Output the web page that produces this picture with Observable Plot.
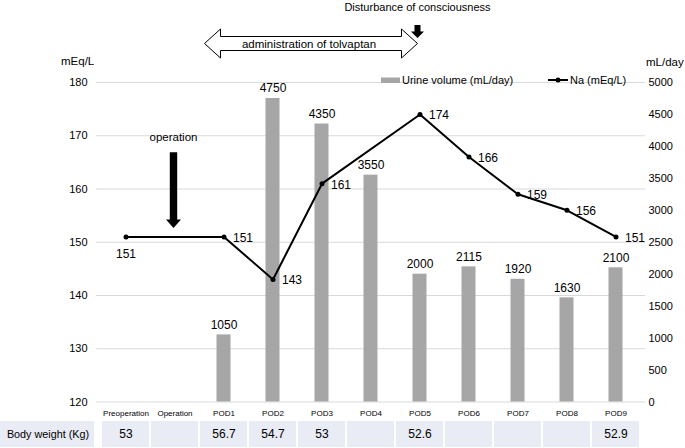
<!DOCTYPE html>
<html>
<head>
<meta charset="utf-8">
<script src="https://cdn.jsdelivr.net/npm/d3@7"></script>
<script src="https://cdn.jsdelivr.net/npm/@observablehq/plot@0.6"></script>
<style>
  html, body { margin: 0; padding: 0; background: #fff; }
  #wrap { width: 685px; height: 448px; overflow: hidden; }
  #wrap svg { display: block; }
</style>
</head>
<body>
<div id="wrap"></div>
<script>
// ---------- data ----------
const categories = ["Preoperation", "Operation", "POD1", "POD2", "POD3", "POD4", "POD5", "POD6", "POD7", "POD8", "POD9"];
const urineVolume = [null, null, 1050, 4750, 4350, 3550, 2000, 2115, 1920, 1630, 2100];   // mL/day
const sodium      = [151, null, 151, 143, 161, null, 174, 166, 159, 156, 151];              // mEq/L
const bodyWeight  = [53, null, 56.7, 54.7, 53, null, 52.6, null, null, null, 52.9];         // Kg
const naTicks     = [120, 130, 140, 150, 160, 170, 180];
const urineTicks  = [0, 500, 1000, 1500, 2000, 2500, 3000, 3500, 4000, 4500, 5000];

const FONT = '"Liberation Sans", Arial, Helvetica, sans-serif';
const NA_MIN = 120, NA_MAX = 180, URINE_MAX = 5000;
const toNa = v => NA_MIN + v * (NA_MAX - NA_MIN) / URINE_MAX;
const toUrine = n => Math.round((n - NA_MIN) * URINE_MAX / (NA_MAX - NA_MIN));

const barData = categories.map((c, i) => ({cat: c, v: urineVolume[i]})).filter(d => d.v != null);
const naData = categories.map((c, i) => ({cat: c, na: sodium[i]})).filter(d => d.na != null);
const weightData = categories.map((c, i) => ({cat: c, w: bodyWeight[i]}));

// ---------- annotations (legend, arrows, unit labels) ----------
function annotations(index, scales, values, dims) {
  const sx = scales.x, sy = scales.y;
  const bw = typeof sx.bandwidth === "function" ? sx.bandwidth() : (sx.bandwidth || 0);
  const cx = c => sx(c) + bw / 2;
  const g = d3.create("svg:g").attr("font-family", FONT).attr("fill", "#000").attr("text-anchor", "start");

  // unit labels
  g.append("text").attr("x", 61).attr("y", 61).attr("dy", "0.35em").attr("text-anchor", "start").attr("font-size", 11.5).text("mEq/L");
  g.append("text").attr("x", 646).attr("y", 62).attr("dy", "0.35em").attr("text-anchor", "start").attr("font-size", 11.5).text("mL/day");

  // legend
  g.append("rect").attr("x", 381).attr("y", 77.5).attr("width", 19).attr("height", 5.5).attr("fill", "#a6a6a6");
  g.append("text").attr("x", 402).attr("y", 80).attr("dy", "0.35em").attr("text-anchor", "start").attr("font-size", 11).text("Urine volume (mL/day)");
  g.append("line").attr("x1", 548).attr("x2", 568).attr("y1", 80).attr("y2", 80).attr("stroke", "#000").attr("stroke-width", 2);
  g.append("circle").attr("cx", 558).attr("cy", 80).attr("r", 2.5).attr("fill", "#000");
  g.append("text").attr("x", 570).attr("y", 80).attr("dy", "0.35em").attr("text-anchor", "start").attr("font-size", 11).text("Na (mEq/L)");

  // disturbance of consciousness
  const dX = cx("POD5") - 2;
  g.append("text").attr("x", dX).attr("y", 7).attr("dy", "0.35em").attr("text-anchor", "middle").attr("font-size", 11)
    .text("Disturbance of consciousness");
  g.append("path").attr("fill", "#000")
    .attr("d", `M${dX - 3},25 L${dX + 3},25 L${dX + 3},31.5 L${dX + 6.5},31.5 L${dX},38 L${dX - 6.5},31.5 L${dX - 3},31.5 Z`);

  // administration of tolvaptan (double outlined arrow)
  const L = cx("POD1") - 19, R = dX, cy = 43.5, hl = 16, hh = 14.5, sh = 7;
  g.append("path").attr("fill", "#fff").attr("stroke", "#000").attr("stroke-width", 1)
    .attr("d", `M${L},${cy} L${L + hl},${cy - hh} L${L + hl},${cy - sh} L${R - hl},${cy - sh} L${R - hl},${cy - hh} L${R},${cy} L${R - hl},${cy + hh} L${R - hl},${cy + sh} L${L + hl},${cy + sh} L${L + hl},${cy + hh} Z`);
  g.append("text").attr("x", (L + R) / 2 - 2).attr("y", cy).attr("dy", "0.35em").attr("text-anchor", "middle").attr("font-size", 11.5)
    .text("administration of tolvaptan");

  // operation arrow
  const oX = cx("Operation") - 1;
  g.append("text").attr("x", oX).attr("y", sy(169.7)).attr("dy", "0.35em").attr("text-anchor", "middle").attr("font-size", 11.5)
    .text("operation");
  const top = sy(166.8), hs = sy(154.2), tip = sy(152.6);
  g.append("path").attr("fill", "#000")
    .attr("d", `M${oX - 3.7},${top} L${oX + 3.7},${top} L${oX + 3.7},${hs} L${oX + 7.5},${hs} L${oX},${tip} L${oX - 7.5},${hs} L${oX - 3.7},${hs} Z`);
  return g.node();
}

// ---------- main chart ----------
const main = Plot.plot({
  width: 685,
  height: 420,
  marginTop: 82,
  marginBottom: 18.5,
  marginLeft: 96,
  marginRight: 40,
  style: {fontFamily: FONT, fontSize: "11px", color: "#000", background: "transparent", overflow: "visible"},
  x: {type: "band", domain: categories, padding: 0},
  y: {domain: [NA_MIN, NA_MAX]},
  marks: [
    Plot.gridY(naTicks, {stroke: "#d9d9d9", strokeOpacity: 1, strokeWidth: 1}),
    Plot.axisY(naTicks, {anchor: "left", tickSize: 0, tickPadding: 9, fontSize: 11, label: null}),
    Plot.axisY(urineTicks.map(toNa), {anchor: "right", tickSize: 0, tickPadding: 3, fontSize: 11, label: null,
      tickFormat: d => String(toUrine(d))}),
    Plot.axisX({tickSize: 0, tickPadding: 8, fontSize: 8, label: null}),
    Plot.barY(barData, {x: "cat", y1: NA_MIN, y2: d => toNa(d.v), fill: "#a6a6a6", insetLeft: 17.5, insetRight: 17.5}),
    Plot.text(barData, {x: "cat", y: d => toNa(d.v), text: d => String(d.v), dy: -10, fontSize: 12}),
    Plot.line(naData, {x: "cat", y: "na", stroke: "#000", strokeWidth: 2}),
    Plot.dot(naData, {x: "cat", y: "na", r: 2.5, fill: "#000"}),
    Plot.text(naData.filter(d => d.cat === "Preoperation"), {x: "cat", y: "na", text: d => String(d.na), dy: 17, fontSize: 12}),
    Plot.text(naData.filter(d => d.cat !== "Preoperation"), {x: "cat", y: "na", text: d => String(d.na), dx: 9, dy: 1, textAnchor: "start", fontSize: 12}),
    annotations
  ]
});

// ---------- body weight table ----------
function tableLabel(index, scales, values, dims) {
  const g = d3.create("svg:g").attr("font-family", FONT);
  g.append("rect").attr("x", 0).attr("y", 1).attr("width", 94).attr("height", 26).attr("fill", "#e9ebf5");
  g.append("text").attr("x", 48).attr("y", 14).attr("dy", "0.35em").attr("text-anchor", "middle")
    .attr("font-size", 10.8).attr("fill", "#000").text("Body weight (Kg)");
  return g.node();
}

const table = Plot.plot({
  width: 685,
  height: 28,
  marginTop: 0,
  marginBottom: 0,
  marginLeft: 96,
  marginRight: 40,
  style: {fontFamily: FONT, fontSize: "12px", color: "#000", background: "transparent", overflow: "visible"},
  x: {type: "band", domain: categories, padding: 0, axis: null},
  marks: [
    tableLabel,
    Plot.cell(weightData, {x: "cat", fill: "#e9ebf5", insetLeft: 1, insetRight: 1, insetTop: 1, insetBottom: 1}),
    Plot.text(weightData.filter(d => d.w != null), {x: "cat", frameAnchor: "middle", text: d => String(d.w), fontSize: 12})
  ]
});

const wrap = document.getElementById("wrap");
wrap.appendChild(main);
wrap.appendChild(table);
</script>
</body>
</html>
